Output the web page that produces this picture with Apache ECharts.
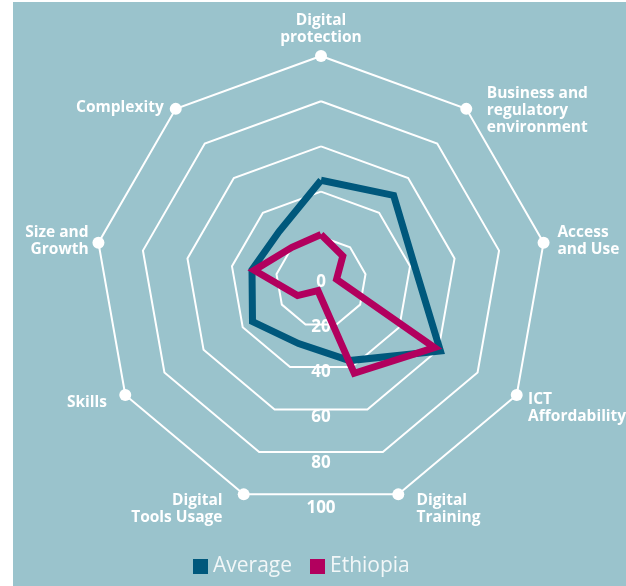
<!DOCTYPE html>
<html>
<head>
<meta charset="UTF-8">
<title>Digital radar</title>
<script src="https://cdn.jsdelivr.net/npm/echarts@6/dist/echarts.min.js"></script>
<style>
html, body { margin: 0; padding: 0; background: #ffffff; }
#chart { position: absolute; left: 13px; top: 2px; width: 613px; height: 584px; }
</style>
</head>
<body>
<div id="chart"></div>
<script>
// axes in the order echarts lays them out: top first, then counter-clockwise
var indicatorNames = ['Digital\nprotection', 'Complexity', 'Size and\nGrowth', 'Skills', 'Digital\nTools Usage',
	'Digital\nTraining', 'ICT\nAffordability', 'Access\nand Use', 'Business and\nregulatory\nenvironment'];
var seriesNames = ['Average', 'Ethiopia'];
var averageValues = [45, 29, 31, 35, 29, 37, 61, 42, 50];
var ethiopiaValues = [21, 20, 30, 12, 4, 43, 58, 7, 15];
var scaleMax = 100;
var scaleSplits = 5; // rings at 20, 40, 60, 80, 100

var colors = ['#00587C', '#B2005E'];
var white = '#ffffff';
var font = '"Open Sans", "Noto Sans", sans-serif';

// per-axis name gap and side padding, tuned by eye against the original
var nameGaps = [9.5, 1.6, 12, 16, 15.2, 15.2, 27, 12, -2.4];
var namePadding = [
	[0, 0, 0, 0], [0, 11, 0, 0], [0, -2, 0, 0], [0, 4.5, 0, 0], [0, 16, 0, 0],
	[0, 0, 0, 13], [0, 0, 0, -12], [0, 0, 0, 2], [0, 0, 0, 22]
];

var center = [308, 280];
var radius = 226;

var mainIndicators = indicatorNames.map(function(n, i) {
	return { name: n, min: 0, max: scaleMax, nameGap: nameGaps[i], nameTextStyle: { padding: namePadding[i] } };
});

// second radar pointing down only to carry the 0..100 labels
var labelIndicators = indicatorNames.map(function(n, i) {
	return { name: '', min: 0, max: scaleMax, axisLabel: { show: i === 0 } };
});

var cornerValues = indicatorNames.map(function() { return scaleMax; });

var chart = echarts.init(document.getElementById('chart'));
chart.setOption({
	backgroundColor: '#9AC3CC',
	textStyle: { fontFamily: font },
	legend: {
		data: seriesNames,
		left: 175,
		top: 549,
		icon: 'rect',
		itemWidth: 15,
		itemHeight: 15,
		itemGap: 18,
		textStyle: { color: '#F2F7F8', fontSize: 21, fontFamily: font }
	},
	radar: [{
		center: center,
		radius: radius,
		startAngle: 90,
		shape: 'polygon',
		splitNumber: scaleSplits,
		indicator: mainIndicators,
		nameGap: 12,
		axisName: {
			color: white,
			fontSize: 15.5,
			fontWeight: 'bold',
			lineHeight: 17,
			fontFamily: font
		},
		axisLine: { show: false },
		axisTick: { show: false },
		axisLabel: { show: false },
		splitArea: { show: false },
		splitLine: { lineStyle: { color: white, width: 2 } }
	}, {
		center: center,
		radius: radius,
		startAngle: 270,
		shape: 'polygon',
		splitNumber: scaleSplits,
		indicator: labelIndicators,
		axisName: { show: false },
		axisLine: { show: false },
		axisTick: { show: false },
		splitArea: { show: false },
		splitLine: { show: false },
		axisLabel: {
			show: true,
			color: white,
			fontSize: 17,
			fontWeight: 'bold',
			fontFamily: font,
			margin: 0,
			align: 'center',
			verticalAlign: 'middle'
		}
	}],
	series: [{
		type: 'radar',
		name: 'corners',
		radarIndex: 0,
		silent: true,
		symbol: 'circle',
		symbolSize: 12,
		itemStyle: { color: white },
		lineStyle: { width: 0, opacity: 0 },
		data: [{ value: cornerValues }]
	}, {
		type: 'radar',
		name: seriesNames[0],
		radarIndex: 0,
		symbol: 'none',
		lineStyle: { color: colors[0], width: 7, join: 'miter' },
		itemStyle: { color: colors[0] },
		data: [{ value: averageValues, name: seriesNames[0] }]
	}, {
		type: 'radar',
		name: seriesNames[1],
		radarIndex: 0,
		symbol: 'none',
		lineStyle: { color: colors[1], width: 7, join: 'miter' },
		itemStyle: { color: colors[1] },
		data: [{ value: ethiopiaValues, name: seriesNames[1] }]
	}]
});
</script>
</body>
</html>
